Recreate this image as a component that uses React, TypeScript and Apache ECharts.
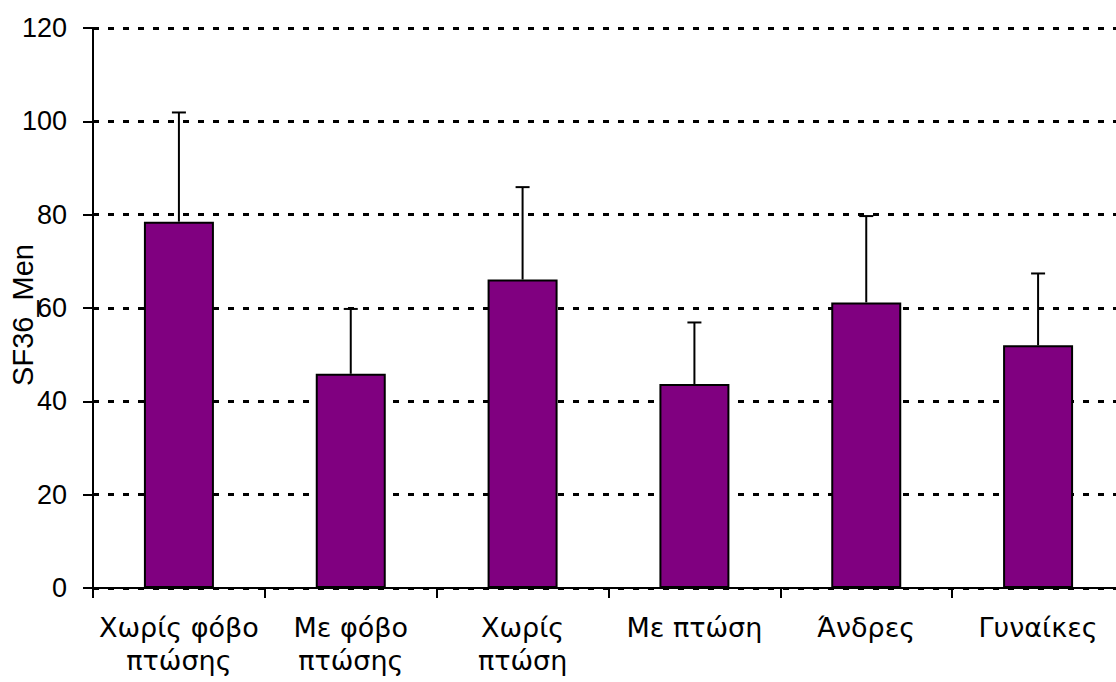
import React, { useEffect, useRef } from "react";
import * as echarts from "echarts";

const categories = ["Χωρίς φόβο\nπτώσης", "Με φόβο\nπτώσης", "Χωρίς\nπτώση", "Με πτώση", "Άνδρες", "Γυναίκες"];
const means = [78.5, 45.9, 66.1, 43.7, 61.2, 52.0];
const upper = [101.9, 59.8, 85.9, 56.9, 79.7, 67.4];
const yTicks = { min: 0, max: 120, interval: 20 };
const yName = "SF36_Men";

export default function App() {
  const ref = useRef<HTMLDivElement>(null);
  useEffect(() => {
    if (!ref.current) return;
    const chart = echarts.init(ref.current, null, { renderer: "svg" });
    const errData = means.map((m, i) => [i, m, upper[i]]);
    chart.setOption({
      animation: false,
      backgroundColor: "#ffffff",
      grid: { left: 93, right: -8, top: 28, bottom: 94, containLabel: false, outerBoundsMode: "none" },
      xAxis: {
        type: "category",
        data: categories,
        boundaryGap: true,
        axisLine: { lineStyle: { color: "#000", width: 2 } },
        axisTick: { show: true, length: 10, alignWithLabel: false, lineStyle: { color: "#000", width: 2 } },
        axisLabel: {
          color: "#000",
          fontFamily: "DejaVu Sans",
          fontSize: 27,
          lineHeight: 33,
          margin: 23,
          interval: 0,
        },
        splitLine: { show: false },
      },
      yAxis: {
        type: "value",
        min: yTicks.min,
        max: yTicks.max,
        interval: yTicks.interval,
        name: yName,
        nameLocation: "middle",
        nameRotate: 90,
        nameGap: 56,
        nameMoveOverlap: false,
        nameTextStyle: { color: "#000", fontFamily: "Liberation Sans", fontSize: 29, padding: [0, 14, 0, 0] },
        axisLine: { show: true, lineStyle: { color: "#000", width: 2 } },
        axisTick: { show: true, length: 10, lineStyle: { color: "#000", width: 2 } },
        axisLabel: { color: "#000", fontFamily: "Liberation Sans", fontSize: 27, margin: 26 },
        splitLine: { show: true, lineStyle: { color: "#000", width: 3, type: [6, 9] } },
      },
      series: [
        {
          type: "bar",
          data: means,
          barWidth: 70,
          itemStyle: { color: "#800080", borderColor: "#000", borderWidth: 2 },
          z: 2,
        },
        {
          type: "custom",
          data: errData,
          z: 3,
          renderItem: (params: any, api: any) => {
            const i = api.value(0);
            const lo = api.coord([i, api.value(1)]);
            const hi = api.coord([i, api.value(2)]);
            const x = lo[0];
            const style = { stroke: "#000", lineWidth: 2 };
            return {
              type: "group",
              children: [
                { type: "line", shape: { x1: x, y1: lo[1], x2: x, y2: hi[1] }, style },
                { type: "line", shape: { x1: x - 7, y1: hi[1], x2: x + 7, y2: hi[1] }, style },
              ],
            };
          },
        },
      ],
    });
    return () => chart.dispose();
  }, []);
  return <div ref={ref} style={{ position: "absolute", left: 0, top: 0, width: 1116, height: 682 }} />;
}
